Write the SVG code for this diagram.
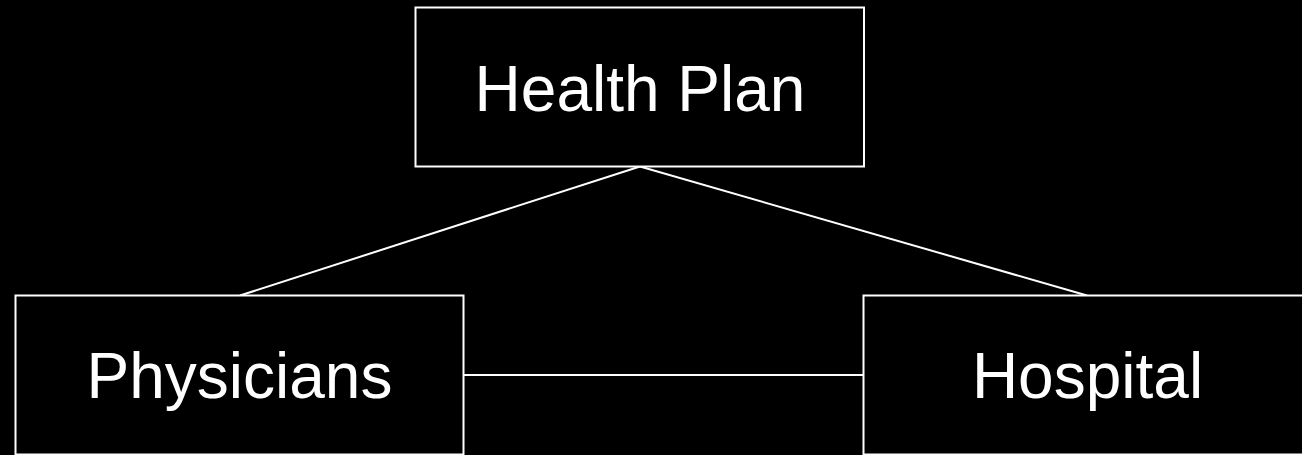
<svg xmlns="http://www.w3.org/2000/svg" width="1302" height="455" viewBox="0 0 1302 455">
<style>
.box{fill:#000;stroke:#fff;stroke-width:2}
.lbl{font-family:"Liberation Sans",Arial,sans-serif;font-size:64px;fill:#fff;text-anchor:middle}
.conn{stroke:#fff;stroke-width:2;fill:none}
</style>
<rect width="1302" height="455" fill="#000"/>
<g id="connectors">
<line class="conn" x1="640" y1="166.5" x2="240" y2="295.5"/>
<line class="conn" x1="640" y1="166.5" x2="1087" y2="295.5"/>
<line class="conn" x1="463.5" y1="375" x2="863.5" y2="375"/>
</g>
<g id="health-plan">
<rect class="box" x="415.5" y="7.5" width="448.5" height="159"/>
<text class="lbl" x="640" y="111">Health Plan</text>
</g>
<g id="physicians">
<rect class="box" x="15.5" y="295.5" width="448" height="159"/>
<text class="lbl" x="239.5" y="398">Physicians</text>
</g>
<g id="hospital">
<rect class="box" x="863.5" y="295.5" width="448" height="159"/>
<text class="lbl" x="1087.5" y="398">Hospital</text>
</g>
</svg>
